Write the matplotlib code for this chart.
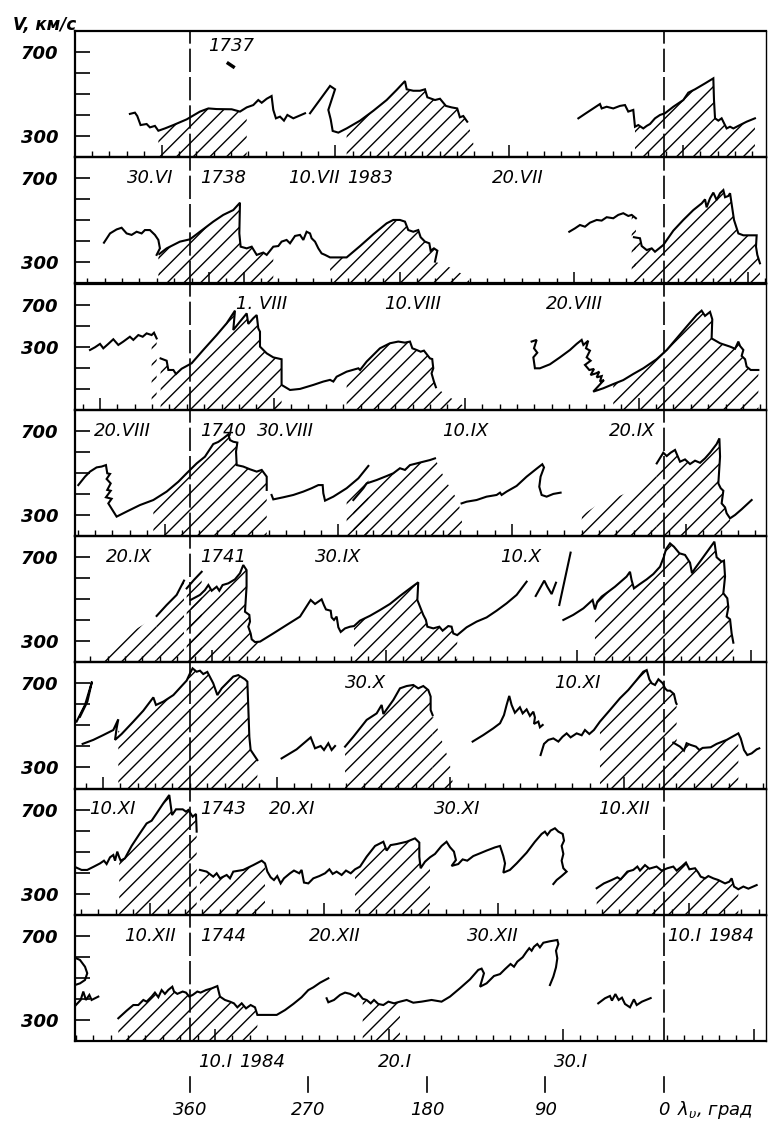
import datetime as dt
import matplotlib
matplotlib.use("Agg")
import matplotlib.pyplot as plt

plt.rcParams['font.family'] = ['DejaVu Sans']
plt.rcParams['hatch.linewidth'] = 1.0
plt.rcParams['hatch.color'] = 'black'

# solar-wind speed V (km/s) against longitude (deg), one row per rotation
# every curve is a list of (longitude, V)

# --- rotation 1737
p1_a = [(405.6, 406), (401.8, 412), (400.0, 396), (397.5, 353), (392.9, 358), (390.4, 342),
        (386.6, 349), (384.0, 326), (379.0, 337), (372.6, 353), (362.5, 380), (352.4, 417),
        (346.0, 432), (339.7, 429), (328.3, 428), (322.0, 417), (316.9, 437), (311.9, 448),
        (308.1, 472), (305.5, 459), (301.7, 478), (298.0, 491), (296.7, 425), (294.7, 385),
        (291.6, 393), (288.6, 374), (286.0, 401), (281.5, 385), (272.6, 409)]
p1_b = [(268.8, 409), (253.6, 539), (249.8, 523), (254.9, 425), (253.1, 380), (251.6, 325),
        (247.3, 317), (241.0, 337), (230.8, 374), (220.7, 421), (210.6, 472), (203.0, 520),
        (196.7, 562), (195.4, 523), (190.4, 516), (185.3, 516), (181.5, 523), (179.7, 485),
        (173.9, 472), (170.1, 478), (165.6, 444), (161.3, 437), (157.0, 432), (155.0, 390),
        (152.4, 396), (149.4, 369)]
p1_c = [(65.0, 385), (60.0, 406), (53.7, 432), (48.6, 453), (47.3, 432), (43.5, 440), (38.5, 432),
        (33.4, 444), (29.6, 448), (27.1, 417), (23.3, 425), (22.0, 345), (19.5, 353), (15.7, 337),
        (13.1, 349), (10.6, 358), (6.8, 385), (3.0, 401), (-0.8, 409), (-7.1, 440), (-14.7, 472),
        (-18.5, 507), (-23.6, 523), (-31.2, 551), (-37.5, 575), (-38.0, 472), (-38.8, 385),
        (-41.3, 374), (-43.8, 385), (-47.6, 337), (-50.2, 345), (-52.7, 337), (-57.7, 353),
        (-62.8, 369), (-69.1, 385)]
p1_mark = [(330.9, 646), (327.1, 630)]
p1_hatch = [(384, 314), (247, 145), (23, -70)]
p1_extra = [[(149.4, 369), (146, 300), (143, 215)]]

# --- rotation 1738
p2_a = [(425.3, 394), (420.7, 438), (415.7, 457), (411.9, 465), (408.1, 438), (404.3, 431),
        (400.5, 446), (396.7, 438), (394.2, 454), (390.4, 454), (386.6, 431), (384.0, 407),
        (382.8, 367), (385.3, 336)]
p2_b = [(383.3, 340), (377.7, 367), (367.6, 399), (360.0, 410), (352.4, 446), (342.3, 494),
        (334.7, 526), (327.1, 549), (322.0, 584), (322.5, 438), (321.5, 375), (316.9, 367),
        (313.1, 375), (309.3, 336), (304.3, 347), (301.7, 336), (296.7, 375), (292.9, 378),
        (290.4, 399), (286.6, 407), (284.0, 391), (280.2, 426), (276.4, 431), (273.9, 407),
        (271.4, 446), (268.8, 438), (267.6, 415), (265.0, 399), (262.5, 367), (260.0, 343),
        (257.4, 336), (253.6, 324), (241.0, 324), (230.8, 378), (220.7, 434), (210.6, 486),
        (205.6, 502), (200.5, 502), (196.7, 494), (194.2, 454), (190.4, 446), (186.6, 454),
        (184.8, 420), (181.5, 399), (178.2, 391), (177.2, 356), (174.7, 367), (172.1, 356),
        (173.9, 304)]
p2_c = [(71.9, 446), (67.6, 462), (63.8, 478), (60.0, 470), (56.2, 489), (51.1, 502), (47.3, 499),
        (43.5, 515), (38.5, 510), (34.7, 526), (30.9, 534), (27.1, 521), (24.5, 526), (21.3, 510)]
p2_d = [(22.8, 420), (18.2, 415), (16.9, 378), (13.1, 359), (9.3, 367), (6.8, 351), (0.5, 383),
        (-7.1, 451), (-14.7, 502), (-22.3, 549), (-28.7, 581), (-31.2, 600), (-32.4, 562),
        (-35.0, 605), (-37.5, 632), (-40.0, 597), (-42.6, 629), (-45.1, 644), (-46.4, 610),
        (-48.9, 616), (-50.2, 629), (-51.4, 578), (-53.2, 502), (-56.5, 438), (-60.3, 429),
        (-70.4, 429), (-69.9, 375), (-70.9, 336), (-72.9, 296)]
p2_hatch = [(385, 294), (257, 160), (27, -73)]
p2_extra = [[(173.9, 304), (160, 270), (148, 225)]]

# --- rotation 1739
p3_a = [(435.9, 484), (432.1, 497), (428.3, 513), (425.8, 492), (422.0, 513), (418.2, 535),
        (414.4, 508), (410.6, 524), (405.6, 547), (403.0, 532), (399.2, 555), (395.9, 547),
        (392.9, 563), (389.1, 555), (387.3, 566), (385.3, 539)]
p3_b = [(382.3, 444), (377.7, 433), (376.4, 389), (372.6, 389), (370.6, 370), (366.3, 395),
        (358.7, 421), (349.9, 484), (339.7, 555), (332.1, 611), (325.8, 671), (327.1, 579),
        (322.0, 619), (316.9, 658), (315.7, 608), (311.9, 635), (309.3, 650), (308.1, 587),
        (306.8, 571), (306.8, 500), (301.7, 468), (296.7, 449), (290.4, 440), (290.4, 318),
        (284.0, 294), (276.4, 299), (266.3, 318), (258.7, 334), (253.6, 342), (251.1, 334),
        (248.6, 357), (241.0, 381), (232.1, 397), (230.8, 389), (225.8, 429), (215.7, 492),
        (208.1, 516), (201.8, 524), (196.7, 519), (192.9, 524), (191.1, 492), (187.8, 484),
        (184.8, 476), (182.3, 481), (177.7, 444), (176.0, 441), (175.2, 397), (176.5, 373),
        (174.7, 334), (173.2, 307)]
p3_c = [(100.5, 524), (96.7, 532), (98.7, 492), (96.2, 471), (99.2, 449), (98.0, 397), (94.2, 397),
        (86.6, 416), (79.0, 449), (71.4, 484), (66.3, 513), (62.5, 532), (61.2, 508), (57.5, 528),
        (59.2, 492), (56.2, 481), (58.7, 449), (55.7, 433), (60.0, 413), (56.7, 389), (53.1, 394),
        (55.7, 365), (51.6, 373), (49.1, 381), (51.1, 354), (47.3, 360), (48.6, 334), (45.6, 341),
        (53.7, 286), (46.1, 302), (38.5, 322), (30.9, 341), (23.3, 370), (15.7, 397), (5.6, 440),
        (-2.1, 484), (-9.6, 539), (-17.2, 595), (-24.8, 650), (-28.6, 671), (-31.2, 646),
        (-35.0, 665), (-36.7, 630), (-36.2, 539), (-42.6, 516), (-50.2, 500), (-54.0, 490),
        (-56.5, 524), (-57.8, 503), (-60.3, 484), (-59.0, 456), (-61.6, 440), (-62.8, 405),
        (-65.9, 389), (-71.7, 389)]
p3_hatch = [(390, 289), (246, 152), (40, -72)]
p3_extra = [[(173.2, 307), (165, 268), (152, 218)]]

# --- rotation 1740
p4_a = [(444.8, 442), (439.7, 482), (435.9, 506), (430.9, 526), (427.1, 530), (423.8, 537),
        (422.8, 498), (420.7, 495), (423.3, 471), (420.2, 450), (422.8, 419), (420.2, 415),
        (423.8, 384), (419.5, 377), (422.0, 355), (415.7, 292), (408.1, 316), (398.0, 347),
        (387.8, 371), (377.7, 411), (368.8, 458), (362.5, 498), (354.9, 545), (348.6, 577),
        (342.3, 637), (338.5, 647), (334.7, 664), (330.9, 683), (329.6, 656), (327.1, 648),
        (324.0, 644), (325.0, 601), (324.5, 537), (319.5, 530), (314.4, 517), (309.3, 506),
        (305.5, 514), (301.7, 482), (301.7, 419)]
p4_b = [(298.0, 395), (296.7, 374), (289.1, 384), (281.5, 395), (273.9, 411), (267.6, 427),
        (262.5, 442), (259.2, 442), (258.7, 403), (257.4, 368), (251.1, 387), (241.0, 427),
        (232.1, 474), (224.5, 533)]
p4_c = [(235.9, 371), (228.3, 427), (225.8, 450), (218.2, 466), (210.6, 485), (205.6, 498),
        (200.5, 522), (196.7, 514), (192.9, 537), (187.8, 545), (182.8, 553), (177.7, 561),
        (173.9, 569)]
p4_d = [(153.7, 355), (149.9, 363), (142.3, 371), (134.7, 387), (127.1, 395), (124.5, 406),
        (123.3, 395), (119.5, 411), (111.9, 438), (104.3, 482), (96.7, 520), (92.4, 541),
        (91.1, 526), (93.7, 482), (94.7, 434), (92.9, 395), (89.1, 387), (84.0, 400), (78.5, 406)]
p4_e = [(5.5, 545), (0.5, 596), (-2.1, 580), (-5.1, 596), (-8.4, 609), (-12.2, 553), (-16.0, 564),
        (-19.8, 542), (-23.6, 558), (-27.4, 548), (-31.2, 569), (-35.0, 596), (-40.0, 637),
        (-42.1, 664), (-42.6, 577), (-41.3, 450), (-43.1, 427), (-45.1, 415), (-43.8, 355),
        (-46.4, 336), (-47.6, 308), (-50.2, 284), (-54.0, 300), (-59.0, 327), (-66.6, 371)]
p4_hatch = [(397, 301), (242, 152), (6, -52)]
p4_extra = [[(173.9, 569), (166, 466), (156, 363), (152, 215)],
            [(64, 212), (62, 300), (50, 350), (30, 400), (15, 470), (5.5, 545)]]

# --- rotation 1741
p5_s1 = [(385.3, 420), (377.7, 472), (370.1, 520), (364.5, 588)]
p5_s2 = [(362.5, 551), (357.0, 591), (351.1, 630)]
p5_a = [(359.5, 496), (352.4, 520), (348.6, 543), (346.0, 567), (343.5, 540), (339.7, 559),
        (337.7, 540), (335.2, 567), (330.9, 575), (325.8, 594), (322.0, 623), (319.5, 662),
        (317.0, 638), (317.0, 559), (318.2, 440), (314.9, 425), (314.4, 393), (315.7, 369),
        (313.9, 337), (313.1, 309), (310.6, 296), (306.8, 298), (296.7, 337), (286.6, 377),
        (276.4, 417), (268.3, 496), (265.0, 477), (260.0, 499), (258.2, 471), (256.7, 451),
        (253.1, 445), (252.4, 413), (250.6, 401), (248.6, 417), (247.3, 366), (245.5, 344),
        (242.2, 361), (238.4, 369), (235.4, 372), (230.8, 398), (223.2, 421), (215.7, 448),
        (208.1, 477), (200.5, 515), (192.9, 551), (186.6, 580), (187.3, 496), (182.8, 425),
        (180.8, 401), (179.7, 369), (175.2, 361), (170.6, 369), (168.1, 350), (163.8, 372),
        (161.3, 369), (160.0, 337), (157.0, 329), (149.9, 366), (142.3, 393), (134.7, 413),
        (130.9, 429), (127.1, 445), (119.5, 480), (111.9, 520), (104.3, 583)]
p5_b = [(97.4, 515), (90.9, 588), (88.6, 559), (85.3, 524), (82.0, 578)]
p5_c = [(79.5, 472), (70.9, 721)]
p5_d = [(76.4, 401), (68.9, 425), (61.2, 456), (54.2, 496), (52.4, 451), (50.6, 488), (47.3, 512),
        (42.3, 535), (37.2, 559), (28.4, 607), (25.8, 630), (24.6, 591), (22.8, 551), (18.2, 572),
        (13.1, 594), (8.1, 619), (3.0, 654), (0.0, 702), (-1.5, 737), (-4.6, 765), (-7.6, 749),
        (-11.7, 718), (-16.0, 710), (-19.8, 673), (-21.3, 623), (-23.6, 646), (-28.6, 689),
        (-33.7, 733), (-38.3, 773), (-40.0, 699), (-43.8, 678), (-45.6, 683), (-46.4, 607),
        (-45.1, 528), (-48.1, 504), (-48.9, 461), (-47.6, 417), (-50.2, 404), (-51.4, 337),
        (-52.7, 293)]
p5_hatch = [(386, 306), (236, 155), (53, -53)]
p5_extra = [[(426, 215), (424.5, 274), (410.6, 322), (398.0, 369), (385.3, 417)]]

# --- rotation 1742
p6_a = [(446.1, 518), (439.7, 597), (434.4, 708), (437.9, 613), (443.5, 541)]
p6_b = [(441.5, 412), (433.4, 431), (425.8, 454), (418.2, 478), (414.4, 529), (415.7, 486),
        (416.9, 431), (411.9, 459), (403.0, 518), (395.4, 570), (387.8, 633), (385.8, 597),
        (380.2, 613), (372.6, 644), (362.5, 713), (360.0, 747), (358.0, 771), (354.9, 755),
        (352.4, 760), (349.9, 744), (346.8, 754), (342.3, 700), (339.2, 644), (335.9, 676),
        (327.1, 732), (323.3, 739), (318.2, 719), (316.4, 708), (315.7, 589), (314.9, 446),
        (313.9, 383), (308.8, 335)]
p6_c = [(290.4, 343), (279.0, 386), (268.3, 443), (265.0, 391), (260.7, 402), (258.2, 383),
        (254.9, 415), (252.4, 383), (249.8, 402)]
p6_d = [(242.2, 399), (235.9, 446), (225.8, 526), (218.2, 557), (214.4, 597), (213.1, 554),
        (205.5, 621), (200.5, 676), (195.4, 687), (190.4, 692), (186.6, 676), (182.8, 687),
        (179.0, 668), (177.2, 637), (177.2, 573), (175.7, 549)]
p6_e = [(145.3, 423), (137.2, 454), (129.6, 486), (124.5, 510), (121.5, 549), (119.5, 597),
        (117.5, 640), (115.7, 597), (113.2, 560), (109.4, 586), (107.3, 557), (104.3, 576),
        (101.8, 545), (99.2, 565), (98.0, 538), (98.7, 507), (95.4, 518), (94.2, 491), (92.1, 502)]
p6_f = [(93.7, 359), (91.1, 412), (87.8, 431), (84.0, 438), (80.2, 423), (77.0, 446), (73.9, 462),
        (70.9, 443), (66.3, 462), (62.5, 453), (60.0, 478), (56.7, 459), (53.2, 478), (48.6, 518),
        (41.0, 573), (33.4, 629), (27.1, 668), (20.7, 716), (15.7, 755), (13.1, 763), (11.1, 719),
        (9.3, 700), (6.8, 692), (4.2, 719), (0.9, 700), (-0.8, 676), (-2.6, 665), (-4.6, 665),
        (-7.6, 649), (-9.1, 608), (-9.6, 602)]
p6_g = [(-7.1, 418), (-12.2, 399), (-15.2, 380), (-17.2, 415), (-20.3, 407), (-24.3, 399),
        (-26.9, 383), (-29.4, 393), (-35.5, 396), (-40.0, 412), (-47.6, 431), (-56.5, 462),
        (-58.3, 438), (-60.8, 383), (-63.3, 359), (-66.6, 367), (-70.4, 386), (-72.4, 391)]
p6_hatch = [(416, 308), (243, 160), (50, -58)]
p6_extra = [[(175.7, 549), (170, 450), (163, 330), (160, 212)]]

# --- rotation 1743
p7_a = [(446.6, 425), (442.3, 413), (438.0, 413), (432.9, 429), (428.3, 444), (425.3, 457),
        (423.3, 441), (420.7, 473), (418.2, 484), (416.9, 457), (415.2, 500), (413.7, 473),
        (412.6, 457), (409.4, 468), (404.3, 527), (398.0, 587), (392.9, 634), (389.1, 647),
        (385.3, 682), (380.2, 730), (375.7, 769), (373.6, 674), (370.6, 701), (365.5, 701),
        (363.0, 690), (361.2, 698), (357.9, 666), (355.4, 679), (354.9, 595)]
p7_b = [(352.4, 413), (347.3, 405), (342.3, 381), (339.7, 397), (337.2, 373), (332.1, 389),
        (329.6, 373), (327.1, 405), (319.5, 413), (311.9, 436), (305.5, 457), (303.0, 444),
        (301.2, 405), (298.7, 378), (296.2, 365), (293.7, 384), (291.1, 349), (288.6, 373),
        (284.0, 397), (281.0, 410), (277.0, 397), (275.2, 413), (273.4, 353), (270.1, 349),
        (266.3, 373), (261.7, 384), (257.4, 397), (254.1, 416), (251.6, 394), (248.6, 405),
        (244.8, 389), (241.5, 410), (237.9, 397), (234.6, 416), (230.8, 429), (225.8, 476),
        (219.4, 527), (213.1, 547), (210.6, 505), (207.6, 531), (203.0, 536), (195.4, 547),
        (189.1, 563), (185.8, 543), (185.8, 476), (184.8, 421), (181.5, 452), (177.7, 473),
        (173.9, 489), (168.9, 527), (165.1, 547), (162.5, 521), (159.5, 500), (158.0, 460),
        (161.3, 432), (156.2, 441), (152.9, 463), (149.4, 457), (144.8, 479), (139.7, 492),
        (134.7, 505), (128.4, 520), (124.5, 527), (122.0, 479), (120.7, 444), (122.0, 400),
        (117.0, 413), (111.9, 444), (104.3, 495), (98.0, 547), (92.9, 584), (90.4, 595),
        (88.6, 579), (86.1, 600), (82.8, 611), (80.2, 595), (76.9, 584), (75.9, 552), (77.7, 527),
        (76.4, 489), (77.7, 457), (76.4, 421), (73.9, 405), (77.7, 384), (81.5, 365), (84.0, 346)]
p7_c = [(51.1, 326), (45.6, 349), (39.7, 365), (35.4, 378), (32.9, 368), (27.8, 405), (23.3, 413),
        (20.2, 429), (18.2, 410), (14.4, 436), (11.1, 419), (5.6, 429), (1.7, 410), (-2.6, 421),
        (-7.1, 429), (-9.6, 410), (-13.4, 429), (-16.7, 448), (-19.3, 416), (-23.6, 421),
        (-26.1, 400), (-27.9, 381), (-31.2, 373), (-33.7, 384), (-37.5, 373), (-41.3, 365),
        (-46.4, 349), (-49.6, 357), (-51.4, 373), (-53.2, 334), (-56.5, 321), (-60.3, 334),
        (-64.1, 324), (-70.4, 341)]
p7_hatch = [(415, 303), (236, 175), (53, -60)]
p7_extra = []

# --- rotation 1744
p8_arc = [(448.1, 598), (443.5, 585), (439.7, 553), (438.0, 522), (439.7, 490), (443.5, 474),
          (447.3, 466)]
p8_z = [(446.6, 371), (443.0, 395), (441.0, 435), (439.0, 395), (436.4, 419), (434.7, 395),
        (429.6, 411)]
p8_a = [(414.4, 308), (408.1, 344), (403.0, 371), (399.2, 371), (395.4, 395), (392.9, 387),
        (389.1, 411), (386.6, 430), (384.0, 408), (381.5, 442), (379.0, 424), (376.4, 443),
        (373.4, 458), (372.1, 435), (369.6, 424), (365.5, 435), (363.0, 430), (360.5, 411),
        (357.9, 419), (354.4, 435), (351.9, 430), (347.8, 442), (343.5, 450), (339.2, 461),
        (337.2, 411), (333.4, 395), (329.6, 387), (326.6, 379), (324.0, 360), (320.7, 379),
        (317.4, 355), (313.9, 371), (310.6, 360), (308.8, 324), (301.7, 324), (294.1, 324),
        (287.8, 347), (281.5, 376), (275.2, 408), (271.9, 430), (270.1, 442), (266.3, 455),
        (261.2, 477), (254.9, 498)]
p8_b = [(256.2, 403), (254.9, 384), (250.6, 395), (246.0, 419), (242.2, 430), (238.4, 424),
        (234.6, 411), (232.1, 427), (228.8, 401), (225.8, 395), (222.7, 379), (220.2, 395),
        (217.0, 376), (213.1, 371), (209.3, 387), (205.0, 379), (200.5, 387), (195.4, 395),
        (190.4, 382), (184.1, 387), (176.5, 395), (168.9, 387), (162.5, 411), (154.9, 451),
        (147.3, 493), (141.0, 538), (138.5, 544), (136.7, 522), (139.7, 458), (134.7, 474),
        (129.1, 509), (124.5, 518), (120.8, 541), (116.5, 566), (113.9, 553), (111.4, 577),
        (107.3, 598), (104.3, 625), (102.3, 641), (100.5, 629), (98.7, 648), (96.2, 661),
        (94.2, 645), (91.6, 667), (86.6, 674), (81.0, 680), (80.2, 661), (82.0, 629), (81.0, 593),
        (82.0, 550), (84.0, 506), (86.6, 466)]
p8_c = [(49.9, 379), (44.8, 403), (41.0, 414), (39.5, 392), (36.9, 423), (34.4, 395), (31.9, 406),
        (29.6, 376), (25.8, 360), (22.8, 398), (20.7, 371), (16.7, 387), (10.1, 404)]
p8_hatch = [(415, 302), (229, 197)]
p8_extra = []

# date marks under each row: (text, year, month, day, year text)
p1_dates = [('30.VI', 1983, 6, 30, ''), ('10.VII', 1983, 7, 10, '1983'), ('20.VII', 1983, 7, 20, '')]
p2_dates = [('1. VIII', 1983, 8, 1, ''), ('10.VIII', 1983, 8, 10, ''), ('20.VIII', 1983, 8, 20, '')]
p3_dates = [('20.VIII', 1983, 8, 20, ''), ('30.VIII', 1983, 8, 30, ''), ('10.IX', 1983, 9, 10, ''),
            ('20.IX', 1983, 9, 20, '')]
p4_dates = [('20.IX', 1983, 9, 20, ''), ('30.IX', 1983, 9, 30, ''), ('10.X', 1983, 10, 10, '')]
p5_dates = [('30.X', 1983, 10, 30, ''), ('10.XI', 1983, 11, 10, '')]
p6_dates = [('10.XI', 1983, 11, 10, ''), ('20.XI', 1983, 11, 20, ''), ('30.XI', 1983, 11, 30, ''),
            ('10.XII', 1983, 12, 10, '')]
p7_dates = [('10.XII', 1983, 12, 10, ''), ('20.XII', 1983, 12, 20, ''), ('30.XII', 1983, 12, 30, ''),
            ('10.I', 1984, 1, 10, '1984')]
p8_dates = [('10.I', 1984, 1, 10, '1984'), ('20.I', 1984, 1, 20, ''), ('30.I', 1984, 1, 30, '')]
rotations = ['1737', '1738', '', '1740', '1741', '', '1743', '1744']

# hand placement of some labels in the original (pixels)
label_shift = {(1, '30.VI'): -11, (1, '10.VII'): -21, (1, '20.VII'): 9,
               (2, '1. VIII'): 18, (2, '10.VIII'): 12,
               (3, '20.VIII'): 22, (3, '30.VIII'): 12, (3, '20.IX'): -7,
               (4, '20.IX'): -36, (4, '10.X'): 8, (5, '30.X'): -20,
               (6, '10.XI'): 9, (6, '20.XI'): 15, (6, '30.XI'): 7,
               (7, '20.XII'): 11, (7, '30.XII'): -5, (7, '10.I'): -5,
               (8, '20.I'): 6, (8, '30.I'): 8}

lon_ticks = [360, 270, 180, 90, 0]

# geometry of the rotation diagram
ANCHOR_DAY = dt.date(1984, 1, 30)
ANCHOR_LON = 77.0
ROT_DAYS = 27.2753
DEG_DAY = 360.0 / ROT_DAYS
XMIN, XMAX = 447.3, -77.5


def day_lon(day, panel):
    t = (day - ANCHOR_DAY).days
    return ANCHOR_LON - DEG_DAY * (t + ROT_DAYS * (8 - panel))


def hatch_under(ax, pts):
    xs = [p[0] for p in pts] + [pts[-1][0], pts[0][0]]
    ys = [p[1] for p in pts] + [200, 200]
    ax.fill(xs, ys, facecolor='none', edgecolor='k', linewidth=0, hatch='//')


panels = [
    ([p1_a, p1_b, p1_c], p1_hatch, p1_extra, p1_dates),
    ([p2_a, p2_b, p2_c, p2_d], p2_hatch, p2_extra, p2_dates),
    ([p3_a, p3_b, p3_c], p3_hatch, p3_extra, p3_dates),
    ([p4_a, p4_b, p4_c, p4_d, p4_e], p4_hatch, p4_extra, p4_dates),
    ([p5_s1, p5_s2, p5_a, p5_b, p5_c, p5_d], p5_hatch, p5_extra, p5_dates),
    ([p6_a, p6_b, p6_c, p6_d, p6_e, p6_f, p6_g], p6_hatch, p6_extra, p6_dates),
    ([p7_a, p7_b, p7_c], p7_hatch, p7_extra, p7_dates),
    ([p8_arc, p8_z, p8_a, p8_b, p8_c], p8_hatch, p8_extra, p8_dates),
]

fig = plt.figure(figsize=(7.79, 11.24), dpi=100)
W, HT = 779, 1124
L, R = 75 / W, 766 / W
TOP, H = 31, 126.25
PX = 72 / 100  # points per pixel

all_days = [dt.date(1983, 5, 20) + dt.timedelta(days=i) for i in range(300)]
axes = []
for k, (curves, spans, extras, dates) in enumerate(panels):
    p = k + 1
    y0 = 1 - (TOP + H * p) / HT
    ax = fig.add_axes([L, y0, R - L, H / HT])
    ax.set_facecolor('none')
    axes.append(ax)
    ax.set_xlim(XMIN, XMAX)
    ax.set_ylim(200, 800)

    # hatched areas
    for hi, lo in spans:
        for c in curves:
            sel = [pt for pt in c if lo <= pt[0] <= hi]
            if len(sel) >= 2:
                hatch_under(ax, sel)
    for ex in extras:
        hatch_under(ax, ex)

    for c in curves:
        ax.plot([pt[0] for pt in c], [pt[1] for pt in c], color='k', lw=1.5,
                solid_joinstyle='miter')
    if p == 1:
        ax.plot([pt[0] for pt in p1_mark], [pt[1] for pt in p1_mark], color='k', lw=2.5)

    # dashed meridians
    for lon in (360, 0):
        ax.axvline(lon, color='k', lw=1.2, dashes=(14, 3))

    # y axis
    ax.set_yticks([300, 400, 500, 600, 700])
    if p == 3:
        ax.set_yticklabels(['', '', '300', '', '700'])
    else:
        ax.set_yticklabels(['300', '', '', '', '700'])
    ax.tick_params(axis='y', direction='in', length=11, width=1.2, pad=12,
                   labelsize=13, right=False)
    for t in ax.get_yticklabels():
        t.set_fontweight('bold')
        t.set_fontstyle('italic')

    # day ticks along the bottom
    lab_days = [dt.date(y, m, d) for _, y, m, d, _ in dates]
    minor = [day_lon(d, p) for d in all_days if XMAX < day_lon(d, p) < XMIN]
    major = [day_lon(d, p) for d in all_days
             if XMAX < day_lon(d, p) < XMIN and (d.day in (10, 20, 30) or d in lab_days)]
    ax.set_xticks(major)
    ax.set_xticks(minor, minor=True)
    ax.tick_params(axis='x', which='major', direction='in', length=9, width=1.1,
                   labelbottom=False, top=False)
    ax.tick_params(axis='x', which='minor', direction='in', length=4.5, width=1.0, top=False)
    for s in ax.spines.values():
        s.set_linewidth(1.6)
    ax.spines['right'].set_linewidth(1.0)

    # date labels under this row
    for text, y, m, d, yr in dates:
        lon = day_lon(dt.date(y, m, d), p)
        dx = label_shift.get((p, text), 0) * PX
        ax.annotate(text, (lon, -0.165), xycoords=ax.get_xaxis_transform(),
                    xytext=(dx, 0), textcoords='offset points', ha='center', va='center',
                    fontsize=13, style='italic', annotation_clip=False)
        if yr:
            ax.annotate(yr, (lon, -0.165), xycoords=ax.get_xaxis_transform(),
                        xytext=(dx + (24 if text == '10.I' else 33) * PX, 0),
                        textcoords='offset points', ha='left', va='center',
                        fontsize=13, style='italic', annotation_clip=False)

    if rotations[k]:
        ax.text(352.4 if p > 1 else 346.0, 0.835 if p > 1 else 0.885, rotations[k],
                transform=ax.get_xaxis_transform(), ha='left', va='center',
                fontsize=13, style='italic')

# longitude scale under the last row
ax8 = axes[-1]
for lon in lon_ticks:
    ax8.plot([lon, lon], [-0.285, -0.40], transform=ax8.get_xaxis_transform(),
             color='k', lw=1.2, clip_on=False)
    ax8.text(lon, -0.55, str(lon), transform=ax8.get_xaxis_transform(), ha='center',
             va='center', fontsize=13, style='italic')
ax8.text(-10, -0.55, r'$\lambda_{\upsilon}$, град', transform=ax8.get_xaxis_transform(),
         ha='left', va='center', fontsize=13, style='italic')

fig.text(13 / W, 1 - 25 / HT, 'V, км/с', fontsize=12, fontweight='bold', style='italic',
         ha='left', va='center')

fig.savefig('out.png', dpi=100)
